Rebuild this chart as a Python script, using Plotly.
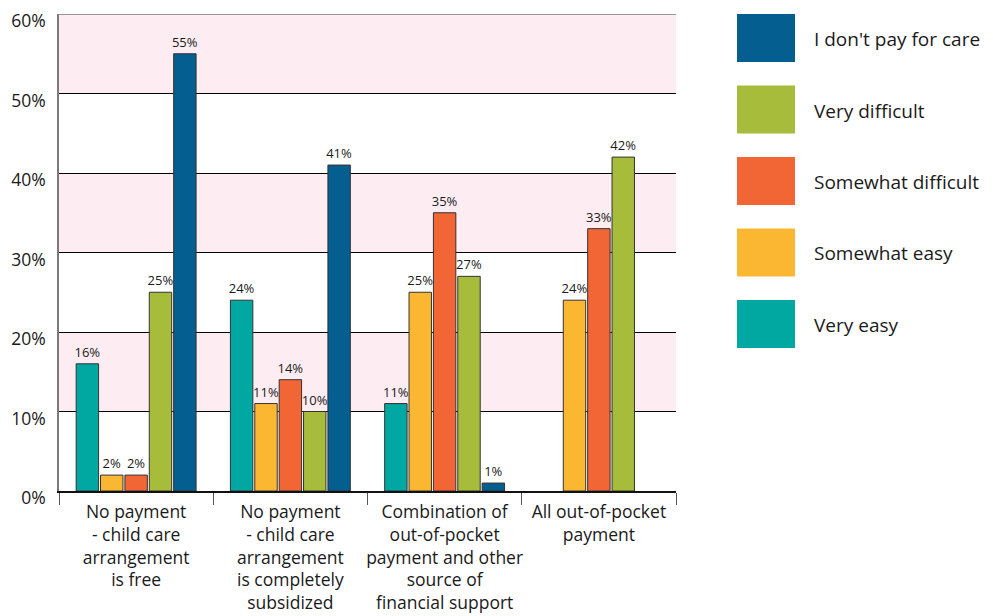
import plotly.graph_objects as go

# --------------------------------------------------
# DATA
# --------------------------------------------------
categories = [
    "No payment<br>- child care<br>arrangement<br>is free",
    "No payment<br>- child care<br>arrangement<br>is completely<br>subsidized",
    "Combination of<br>out-of-pocket<br>payment and other<br>source of<br>financial support",
    "All out-of-pocket<br>payment",
]
series_names = ["Very easy", "Somewhat easy", "Somewhat difficult", "Very difficult", "I don't pay for care"]
very_easy = [16, 24, 11, None]
somewhat_easy = [2, 11, 25, 24]
somewhat_difficult = [2, 14, 35, 33]
very_difficult = [25, 10, 27, 42]
dont_pay = [55, 41, 1, None]
y_ticks = [0, 10, 20, 30, 40, 50, 60]
y_tick_labels = ["0%", "10%", "20%", "30%", "40%", "50%", "60%"]

colors = ["#00a8a1", "#fcb732", "#f26534", "#a6bc3a", "#045e8f"]
series_values = [very_easy, somewhat_easy, somewhat_difficult, very_difficult, dont_pay]

FONT = "Open Sans"

# --------------------------------------------------
# FIGURE
# --------------------------------------------------
fig = go.Figure()

for name, vals, col in zip(series_names, series_values, colors):
    fig.add_trace(go.Bar(
        x=categories,
        y=vals,
        name=name,
        marker=dict(color=col, line=dict(color="#333333", width=1)),
        text=[f"{v}%" if v is not None else "" for v in vals],
        textposition="outside",
        constraintext="none",
        textfont=dict(size=13, color="#1a1a1a", family=FONT),
        cliponaxis=False,
        showlegend=False,
    ))

# pink bands
for lo in [10, 30, 50]:
    fig.add_shape(type="rect", xref="paper", yref="y", x0=0, x1=1, y0=lo, y1=lo + 10,
                  fillcolor="#fdedf2", line=dict(width=0), layer="below")

# top border
fig.add_shape(type="line", xref="paper", yref="y", x0=0, x1=1, y0=60, y1=60,
              line=dict(color="#7a7a7a", width=1.5))

# --------------------------------------------------
# LAYOUT (page body has an 8px margin, so the figure is shifted by 8px)
# --------------------------------------------------
OFF = 8
W, H = 993 - OFF, 616 - OFF
L, R, T, B = 59 - OFF, 993 - 676, 14 - OFF, 616 - 491
pw, ph = W - L - R, H - T - B

def px_x(px):
    return (px - OFF - L) / pw

def px_y(py):
    return (H - B - (py - OFF)) / ph

# legend with big squares, drawn by hand
for i, (name, col) in enumerate(zip(series_names[::-1], colors[::-1])):
    top = 14 + i * 71.5
    fig.add_shape(type="rect", xref="paper", yref="paper",
                  x0=px_x(737), x1=px_x(795), y0=px_y(top + 48), y1=px_y(top),
                  fillcolor=col, line=dict(width=0))
    fig.add_annotation(xref="paper", yref="paper", x=px_x(812), y=px_y(top + 25),
                       text=name, showarrow=False, xanchor="left", yanchor="middle",
                       font=dict(size=19, color="#1a1a1a", family=FONT))

fig.update_layout(
    width=W, height=H,
    margin=dict(l=L, r=R, t=T, b=B, autoexpand=False),
    barmode="group",
    bargap=0.21,
    bargroupgap=0.08,
    plot_bgcolor="white",
    paper_bgcolor="white",
    font=dict(family=FONT, color="#1a1a1a"),
)
fig.update_yaxes(
    range=[0, 60],
    tickvals=y_ticks,
    ticktext=y_tick_labels,
    tickfont=dict(size=17.5, family=FONT, color="#1a1a1a"),
    showgrid=True, gridcolor="#000000", gridwidth=1,
    showline=True, linecolor="#7a7a7a", linewidth=1.5,
    zeroline=False,
    ticklabelstandoff=8,
    ticklabelshift=7,
    ticklabeloverflow="allow",
    automargin=False,
)
fig.update_xaxes(
    tickfont=dict(size=17.5, family=FONT, color="#1a1a1a"),
    tickangle=0,
    showline=True, linecolor="#111111", linewidth=2,
    ticks="outside", tickson="boundaries", ticklen=12, tickcolor="#555555", tickwidth=1,
    ticklabelstandoff=4,
    showgrid=False,
    automargin=False,
)

fig.write_html("out.html")
